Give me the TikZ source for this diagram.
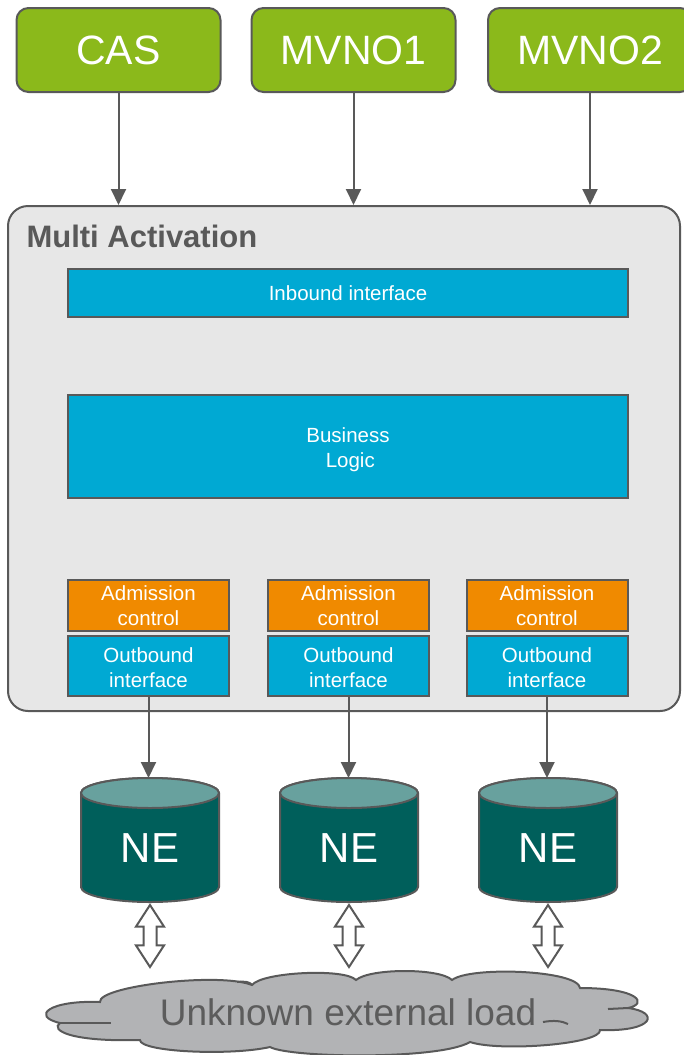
\documentclass[tikz,border=0pt]{standalone}
\usepackage{fontspec}
\setmainfont{Liberation Sans}
\usetikzlibrary{arrows.meta,shapes.arrows}
\definecolor{lime}{HTML}{8BB91B}
\definecolor{edge}{HTML}{595959}
\definecolor{panel}{HTML}{E7E7E7}
\definecolor{cyanbox}{HTML}{00A9D3}
\definecolor{orangebox}{HTML}{F08A00}
\definecolor{cylbody}{HTML}{005F5B}
\definecolor{cyltop}{HTML}{68A19E}
\definecolor{cloudfill}{HTML}{B2B3B5}
\definecolor{cloudtext}{HTML}{5C5C5C}
\tikzset{
  x=1pt, y=1pt,
  topbox/.style={draw=edge, line width=2pt, fill=lime, rounded corners=12pt,
    minimum width=204pt, minimum height=84pt, text=white, inner sep=0pt,
    font=\fontsize{41}{48}\selectfont},
  panelbox/.style={draw=edge, line width=2pt, fill=panel, rounded corners=20pt,
    minimum width=672pt, minimum height=505pt, inner sep=0pt},
  layer/.style={draw=edge, line width=2pt, fill=cyanbox, text=white, align=center,
    minimum width=560pt, inner sep=0pt, font=\fontsize{20.5}{25}\selectfont},
  whitetext/.style={text=white, align=center, inner sep=0pt,
    font=\fontsize{20.5}{25}\selectfont},
  admbox/.style={draw=edge, line width=2pt, fill=orangebox, text=white, align=center,
    minimum width=161pt, minimum height=51pt, inner sep=0pt,
    font=\fontsize{20.5}{25}\selectfont},
  outbox/.style={draw=edge, line width=2pt, fill=cyanbox,
    minimum width=161pt, minimum height=60pt, inner sep=0pt},
  flow/.style={draw=edge, line width=2pt, -{Triangle[width=15pt,length=16pt]}},
  cylside/.style={draw=edge, line width=2pt, fill=cylbody},
  cylcap/.style={draw=edge, line width=2pt, fill=cyltop},
  netext/.style={text=white, font=\fontsize{42}{48}\selectfont, inner sep=0pt},
  swap/.style={double arrow, draw=edge, line width=2pt, fill=white, rotate=90,
    minimum width=10pt, inner sep=5.5pt, double arrow head extend=7.5pt,
    double arrow tip angle=66, minimum height=62pt},
  puff/.style={draw=edge, line width=2pt},
}
\begin{document}
\begin{tikzpicture}
\useasboundingbox (0,0) rectangle (683,-1055);

% clients
\node[topbox] (cas) at (118.5,-50) {CAS};
\node[topbox] (m1) at (353.5,-50) {MVNO1};
\node[topbox] (m2) at (590,-50) {MVNO2};

% activation platform
\node[panelbox] (ma) at (344,-458.5) {};
\node[anchor=base west, text=edge, font=\fontsize{31}{36}\selectfont\bfseries]
  (title) at (23,-247) {Multi Activation};

\node[layer, minimum height=48pt] (inb) at (348,-293) {Inbound interface};
\node[layer, minimum height=103pt] (bl) at (348,-446.5) {};
\node[whitetext] (bltext) at ([yshift=-3pt]bl.center) {Business\\\hphantom{i}Logic};

\foreach \i/\cx in {1/148.5, 2/348.5, 3/547} {
  \node[admbox] (adm\i) at (\cx,-605.5) {Admission\\control};
  \node[outbox] (out\i) at (\cx,-666) {};
  \node[whitetext] (out\i text) at ([yshift=-1.5pt]out\i.center) {Outbound\\interface};
}

\draw[flow] (cas.south) -- (cas.south |- ma.north);
\draw[flow] (m1.south) -- (m1.south |- ma.north);
\draw[flow] (m2.south) -- (m2.south |- ma.north);

% network elements
\foreach \i/\cx in {1/150, 2/349, 3/548} {
  \path[cylside] (\cx-69,-793) -- (\cx-69,-887)
    arc[start angle=180, end angle=360, x radius=69, y radius=15]
    -- (\cx+69,-793) arc[start angle=0, end angle=180, x radius=69, y radius=15]
    -- cycle;
  \path[cylcap] (\cx,-793) ellipse[x radius=69, y radius=15];
  \coordinate (ne\i top) at (\cx,-778);
  \node[netext] (ne\i) at (\cx,-848) {NE};
  \draw[flow] (out\i.south) -- (out\i.south |- ne\i top);
  \node[swap] (sw\i) at (\cx,-936) {};
}

% external load cloud
\path[puff, fill=cloudfill]
  (100,-1002) .. controls (98,-986) and (220,-972) .. (252,-985)
  .. controls (262,-972) and (345,-968) .. (356,-980)
  .. controls (370,-968) and (440,-968) .. (452,-980)
  .. controls (470,-966) and (578,-970) .. (580,-988)
  .. controls (640,-988) and (648,-1004) .. (628,-1008)
  .. controls (660,-1012) and (655,-1032) .. (600,-1030)
  .. controls (602,-1044) and (500,-1052) .. (470,-1042)
  .. controls (440,-1060) and (290,-1058) .. (270,-1047)
  .. controls (230,-1056) and (140,-1052) .. (140,-1040)
  .. controls (70,-1042) and (50,-1030) .. (60,-1023)
  .. controls (30,-1016) and (50,-1000) .. (100,-1002) -- cycle;
\draw[puff] (60,-1023) -- (111,-1023);
\draw[puff] (608,-1009) -- (628,-1008);
\draw[puff] (543,-1022) .. controls (554,-1020) and (562,-1021) .. (568,-1024);
\draw[puff] (237,-982) .. controls (245,-981) and (250,-982) .. (252,-985);
\node[text=cloudtext, font=\fontsize{37}{42}\selectfont, inner sep=0pt]
  (load) at (348,-1012) {Unknown external load};
\end{tikzpicture}
\end{document}
